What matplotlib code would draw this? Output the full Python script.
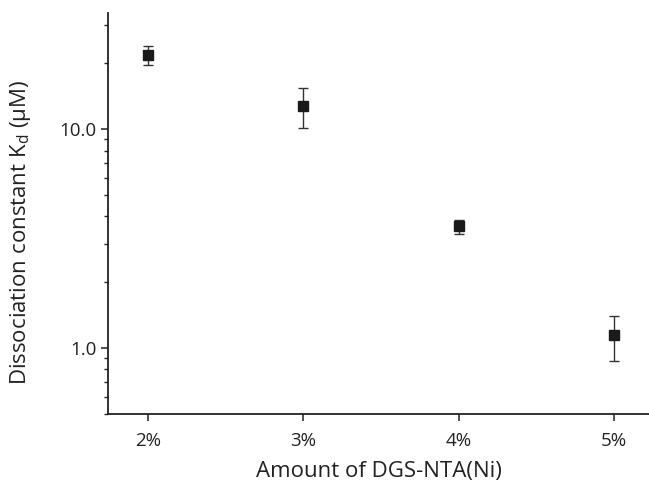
import matplotlib
matplotlib.use("Agg")
import matplotlib.pyplot as plt
from matplotlib.ticker import FixedLocator, FixedFormatter, LogLocator, NullFormatter

# data
amounts = [2, 3, 4, 5]
amount_labels = ["2%", "3%", "4%", "5%"]
kd = [21.8, 12.8, 3.6, 1.15]
kd_upper = [24.1, 15.4, 3.84, 1.41]
kd_lower = [19.6, 10.1, 3.33, 0.875]

plt.rcParams['font.family'] = ['Open Sans', 'DejaVu Sans']
plt.rcParams['mathtext.fontset'] = 'custom'
plt.rcParams['mathtext.rm'] = 'Open Sans'
plt.rcParams['mathtext.it'] = 'Open Sans'

fig = plt.figure(figsize=(6.49, 4.84), dpi=100)
ax = fig.add_axes([0.1664, 0.1446, 0.8336, 0.8284])

err_low = [k - lo for k, lo in zip(kd, kd_lower)]
err_high = [hi - k for k, hi in zip(kd, kd_upper)]
ax.errorbar(amounts, kd, yerr=[err_low, err_high], fmt='s', color='#1a1a1a',
            ecolor='#333333', elinewidth=1.0, capsize=3.5, capthick=1.0,
            markersize=6.5)

ax.set_yscale('log')
ax.set_ylim(0.5, 34)
ax.set_xlim(1.743, 5.225)

ax.yaxis.set_major_locator(FixedLocator([1, 10]))
ax.yaxis.set_major_formatter(FixedFormatter(["1.0", "10.0"]))
ax.yaxis.set_minor_locator(LogLocator(base=10, subs=range(2, 10)))
ax.yaxis.set_minor_formatter(NullFormatter())

ax.set_xticks(amounts)
ax.set_xticklabels(amount_labels)

for side in ['top', 'right']:
    ax.spines[side].set_visible(False)
for side in ['left', 'bottom']:
    ax.spines[side].set_linewidth(1.3)
    ax.spines[side].set_color('#222222')

ax.tick_params(axis='both', which='major', direction='out', length=5, width=1.1,
               labelsize=13.5, colors='#222222')
ax.tick_params(axis='x', which='major', pad=8)
ax.tick_params(axis='y', which='major', pad=3)
ax.tick_params(axis='y', which='minor', direction='out', length=3, width=1.0,
               colors='#222222')

ax.set_xlabel("Amount of DGS-NTA(Ni)", fontsize=16, color='#222222', labelpad=8)
ax.set_ylabel(r"Dissociation constant K$_\mathrm{d}$ (μM)", fontsize=16,
              color='#222222')
ax.yaxis.set_label_coords(-0.139, 0.454)

fig.savefig("out.png", dpi=100)
